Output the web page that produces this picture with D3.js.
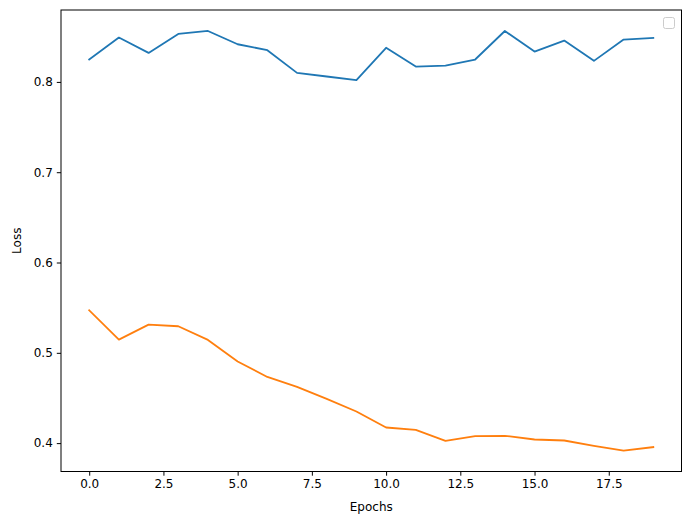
<!DOCTYPE html>
<html>
<head>
<meta charset="utf-8">
<script src="https://cdn.jsdelivr.net/npm/d3@7/dist/d3.min.js"></script>
<style>
  body { margin: 0; background: #fff; }
  svg { display: block; font-family: "DejaVu Sans", sans-serif; }
</style>
</head>
<body>
<svg id="chart" width="691" height="525"></svg>
<script>
const epochs = d3.range(20);
const series1 = [0.8248, 0.8491, 0.8321, 0.8531, 0.8564, 0.8417, 0.8351, 0.8100, 0.8060, 0.8019,
                 0.8378, 0.8170, 0.8181, 0.8248, 0.8564, 0.8336, 0.8458, 0.8233, 0.8469, 0.8487];
const series2 = [0.5471, 0.5146, 0.5312, 0.5294, 0.5143, 0.4903, 0.4733, 0.4623, 0.4490, 0.4350,
                 0.4173, 0.4147, 0.4025, 0.4077, 0.4081, 0.4040, 0.4029, 0.3970, 0.3918, 0.3956];
const xTicks = [0, 2.5, 5, 7.5, 10, 12.5, 15, 17.5];
const yTicks = [0.4, 0.5, 0.6, 0.7, 0.8];
const colors = ["#1f77b4", "#ff7f0e"];
const xLabel = "Epochs";
const yLabel = "Loss";

const svg = d3.select("#chart");
const L = 61, R = 681.5, T = 10, B = 471.5;

const allY = series1.concat(series2);
const yMin = d3.min(allY), yMax = d3.max(allY), yPad = (yMax - yMin) * 0.05;
const xMin = 0, xMax = 19, xPad = (xMax - xMin) * 0.05;

const x = d3.scaleLinear().domain([xMin - xPad, xMax + xPad]).range([L, R]);
const y = d3.scaleLinear().domain([yMin - yPad, yMax + yPad]).range([B, T]);

const line = d3.line().x((d, i) => x(epochs[i])).y(d => y(d));

[series1, series2].forEach((s, k) => {
  svg.append("path").datum(s)
    .attr("d", line)
    .attr("fill", "none")
    .attr("stroke", colors[k])
    .attr("stroke-width", 1.8)
    .attr("stroke-linejoin", "round")
    .attr("stroke-linecap", "square");
});

// x axis
const xAxis = svg.append("g").attr("transform", `translate(0,${B})`)
  .call(d3.axisBottom(x).tickValues(xTicks).tickFormat(d3.format(".1f")).tickSizeOuter(0).tickSize(4.2).tickPadding(4));
xAxis.select(".domain").remove();
xAxis.selectAll("line").attr("stroke", "#000").attr("stroke-width", 1);
xAxis.selectAll("text").attr("font-size", 12).attr("fill", "#000").attr("font-family", "DejaVu Sans");

// y axis
const yAxis = svg.append("g").attr("transform", `translate(${L},0)`)
  .call(d3.axisLeft(y).tickValues(yTicks).tickFormat(d3.format(".1f")).tickSizeOuter(0).tickSize(4.2).tickPadding(4));
yAxis.select(".domain").remove();
yAxis.selectAll("line").attr("stroke", "#000").attr("stroke-width", 1);
yAxis.selectAll("text").attr("font-size", 12).attr("fill", "#000").attr("font-family", "DejaVu Sans");

// frame
svg.append("rect").attr("x", L).attr("y", T).attr("width", R - L).attr("height", B - T)
  .attr("fill", "none").attr("stroke", "#000").attr("stroke-width", 1);

// labels
svg.append("text").attr("x", (L + R) / 2).attr("y", 511).attr("text-anchor", "middle")
  .attr("font-size", 12).text(xLabel);
svg.append("text").attr("transform", `translate(21,${(T + B) / 2}) rotate(-90)`)
  .attr("text-anchor", "middle").attr("font-size", 12).text(yLabel);

// empty legend box
svg.append("rect").attr("x", 663.5).attr("y", 17.5).attr("width", 11).attr("height", 11)
  .attr("rx", 2).attr("fill", "#fff").attr("fill-opacity", 0.8)
  .attr("stroke", "#cccccc").attr("stroke-width", 1);
</script>
</body>
</html>
